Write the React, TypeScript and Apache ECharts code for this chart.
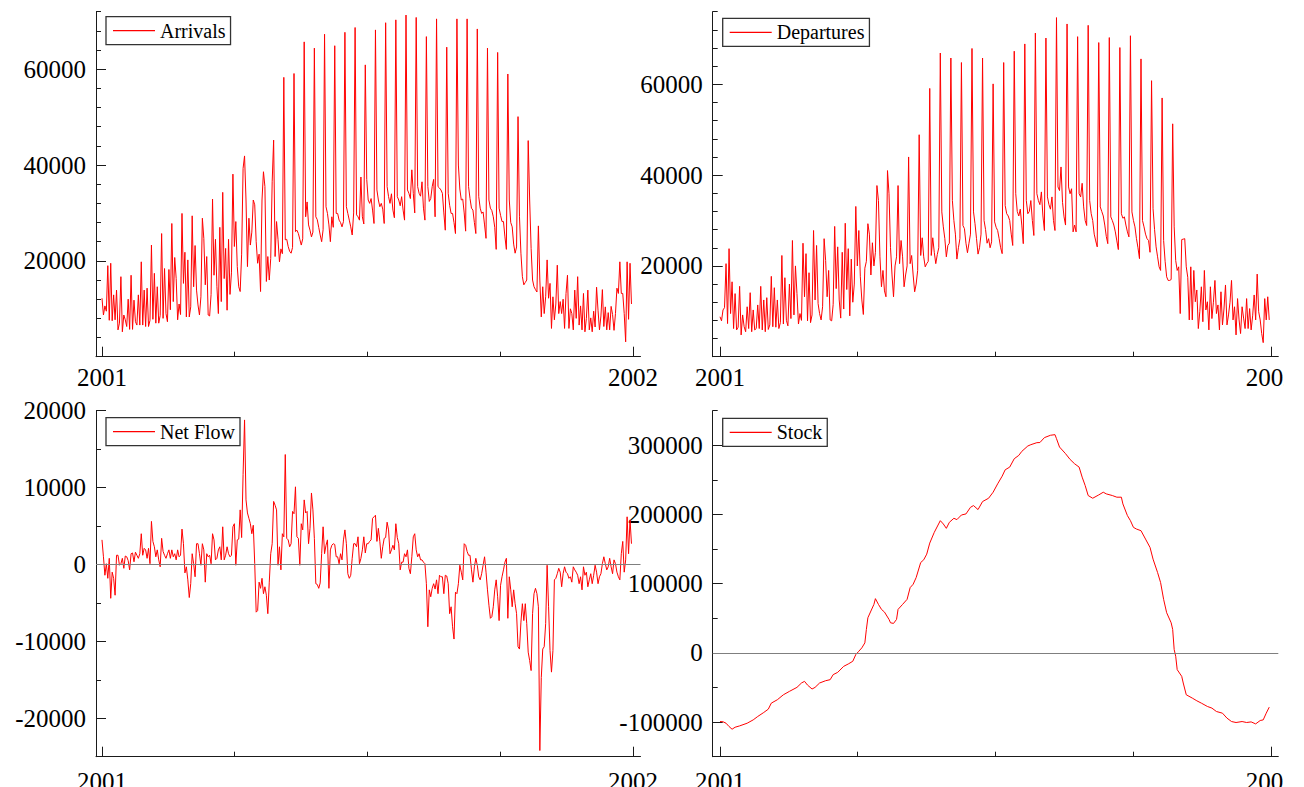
import React, { useEffect, useRef } from 'react';
import * as echarts from 'echarts';

// All flows in thousands of units per day, day 0 = 2001-01-01 (365 days)
const SCALE = 1000;

const arrivalsK = [
  12.2, 8.7, 10.6, 9.5, 19.0, 7.6, 19.5,
  7.5, 12.9, 7.7, 13.9, 5.6, 7.0, 16.7,
  5.2, 8.7, 7.7, 6.3, 12.0, 5.7, 17.0,
  5.7, 11.8, 7.3, 6.6, 12.9, 6.6, 19.8,
  6.6, 13.9, 6.3, 14.3, 6.3, 7.6, 23.3,
  7.8, 17.4, 7.0, 14.6, 7.0, 8.6, 25.7,
  8.0, 18.4, 9.0, 7.3, 18.2, 9.8, 27.8,
  11.5, 20.7, 16.3, 7.7, 11.0, 8.8, 29.9,
  15.3, 21.8, 8.3, 20.2, 8.3, 10.4, 29.4,
  14.6, 23.2, 13.9, 10.8, 8.7, 12.5, 28.9,
  24.7, 15.0, 20.9, 8.7, 8.5, 13.0, 32.9,
  17.0, 24.5, 14.6, 9.0, 27.0, 11.5, 34.3,
  16.3, 22.6, 9.7, 24.5, 13.0, 17.5, 38.1,
  23.0, 28.2, 18.8, 14.6, 13.6, 21.4, 39.3,
  41.9, 32.7, 18.8, 28.9, 23.3, 26.0, 32.7,
  31.7, 24.0, 19.5, 21.4, 13.6, 32.7, 38.6,
  35.5, 15.7, 20.9, 16.0, 20.5, 36.5, 45.2,
  20.9, 28.2, 24.5, 19.8, 22.5, 21.5, 58.3,
  24.4, 24.5, 23.0, 22.0, 21.6, 22.8, 59.1,
  26.1, 26.4, 25.7, 24.5, 23.3, 24.6, 65.7,
  29.2, 32.3, 27.5, 26.4, 25.0, 26.0, 64.4,
  29.2, 28.6, 27.0, 25.4, 24.0, 26.5, 67.3,
  31.3, 29.9, 27.5, 24.0, 29.2, 27.0, 64.9,
  29.9, 29.9, 28.5, 28.0, 27.1, 28.2, 67.7,
  31.3, 29.9, 28.5, 27.1, 25.4, 30.0, 68.7,
  29.6, 29.2, 28.5, 37.5, 29.2, 27.7, 60.9,
  37.0, 32.7, 32.0, 33.0, 30.6, 27.8, 68.2,
  34.8, 32.7, 31.3, 32.0, 30.8, 27.8, 69.7,
  35.5, 33.4, 32.0, 34.0, 30.6, 29.0, 70.3,
  33.4, 32.7, 31.5, 33.4, 30.6, 28.5, 71.3,
  34.8, 34.1, 33.0, 39.0, 34.1, 30.0, 70.8,
  35.5, 34.1, 33.5, 36.5, 31.0, 28.5, 66.8,
  35.5, 32.4, 33.0, 35.5, 37.0, 29.2, 70.5,
  35.5, 35.2, 34.8, 34.1, 30.0, 26.4, 64.6,
  34.1, 31.6, 29.9, 29.9, 28.0, 25.7, 70.5,
  40.0, 35.0, 32.7, 32.9, 30.0, 26.2, 70.5,
  35.5, 33.0, 31.0, 30.6, 28.0, 25.7, 68.4,
  33.4, 31.0, 29.9, 30.2, 27.5, 24.7, 64.4,
  32.7, 31.0, 30.5, 29.2, 27.0, 22.4, 63.5,
  31.0, 29.5, 28.2, 28.2, 25.0, 22.4, 59.0,
  32.7, 28.0, 27.1, 23.5, 21.6, 22.9, 50.1,
  29.2, 21.6, 16.7, 15.0, 15.5, 16.0, 45.1,
  32.7, 22.6, 16.0, 14.6, 14.0, 13.5, 27.3,
  16.0, 8.3, 14.6, 9.0, 12.5, 20.2, 12.2, 15.3, 5.9, 12.5,
  7.7, 11.0, 19.1, 9.0, 11.5, 9.0, 12.0, 5.9, 13.2, 17.0,
  5.9, 10.0, 9.0, 5.6, 13.9, 8.0, 16.7, 6.6, 10.6, 5.6,
  13.2, 5.2, 8.0, 13.9, 5.6, 8.1, 5.2, 9.5, 6.2, 14.5,
  9.7, 5.6, 8.5, 14.0, 6.3, 10.4, 5.6, 9.2, 5.6, 10.5,
  8.8, 5.5, 9.0, 14.3, 13.2, 19.8, 13.2, 13.2, 9.0, 3.1,
  19.8, 7.8, 19.5, 11.0,
];

const departuresK = [
  8.8, 7.9, 10.3, 10.8, 20.5, 7.3, 23.8,
  9.5, 16.5, 6.2, 13.9, 5.9, 6.5, 15.5,
  4.8, 9.2, 6.6, 5.5, 11.0, 6.2, 14.1,
  5.5, 10.3, 5.9, 6.2, 11.4, 6.2, 15.5,
  5.9, 12.5, 5.5, 13.0, 6.0, 7.0, 17.7,
  6.6, 15.2, 6.5, 12.5, 6.2, 7.5, 22.3,
  7.2, 17.4, 8.0, 6.8, 16.0, 8.4, 25.6,
  9.2, 20.0, 13.9, 7.2, 9.5, 8.0, 25.0,
  13.2, 22.7, 7.9, 18.5, 7.5, 9.2, 27.8,
  12.5, 24.5, 11.7, 9.5, 8.1, 11.0, 26.0,
  21.2, 13.2, 19.0, 8.1, 7.9, 11.5, 28.7,
  15.0, 24.2, 12.5, 8.5, 23.0, 10.5, 29.4,
  14.8, 23.8, 9.0, 21.5, 12.0, 16.0, 33.1,
  20.0, 27.8, 17.6, 12.5, 9.3, 19.5, 21.0,
  29.3, 27.0, 18.0, 25.1, 20.0, 23.0, 37.7,
  34.4, 22.0, 15.4, 19.0, 14.5, 13.2, 41.0,
  35.9, 24.0, 18.0, 13.2, 20.0, 22.0, 37.7,
  20.5, 25.6, 22.0, 15.4, 18.0, 20.0, 44.0,
  20.5, 22.3, 18.0, 14.3, 16.0, 19.0, 48.9,
  22.3, 26.2, 22.0, 19.8, 20.5, 21.0, 59.1,
  22.3, 26.2, 23.0, 20.5, 22.5, 24.0, 66.9,
  31.9, 28.6, 26.0, 22.0, 24.5, 25.0, 65.8,
  34.4, 30.0, 27.0, 21.5, 24.0, 26.0, 64.8,
  28.9, 28.2, 25.0, 22.9, 25.0, 27.0, 67.9,
  31.9, 29.3, 26.0, 22.6, 24.0, 27.0, 65.8,
  30.0, 28.0, 25.0, 26.0, 24.0, 25.3, 60.1,
  29.7, 28.5, 27.8, 26.0, 24.0, 22.7, 64.8,
  33.3, 31.5, 31.0, 30.0, 27.0, 24.5, 67.3,
  35.9, 32.0, 31.0, 32.5, 29.0, 24.9, 68.9,
  34.4, 31.5, 32.0, 34.4, 30.0, 26.7, 71.3,
  35.9, 34.4, 33.5, 36.3, 31.0, 27.8, 70.2,
  35.2, 33.5, 32.5, 35.2, 30.0, 27.8, 74.7,
  37.4, 36.6, 41.8, 34.0, 30.8, 29.0, 73.3,
  37.4, 35.9, 37.0, 27.5, 29.0, 27.5, 70.5,
  35.9, 35.2, 38.2, 33.0, 30.0, 28.9, 73.0,
  34.4, 31.5, 30.0, 27.0, 25.5, 24.2, 69.2,
  33.0, 32.0, 31.0, 29.0, 26.5, 24.9, 70.3,
  30.8, 30.0, 29.0, 27.5, 25.5, 23.6, 68.1,
  31.5, 30.5, 30.8, 29.0, 27.5, 26.4, 70.7,
  31.9, 30.0, 28.6, 26.0, 24.0, 21.6, 65.6,
  30.0, 28.6, 27.0, 26.0, 25.6, 23.0, 60.8,
  32.6, 28.0, 24.2, 22.0, 19.8, 19.0, 57.0,
  25.6, 21.0, 17.6, 16.8, 16.8, 17.0, 51.3,
  28.6, 21.2, 19.0, 19.8, 9.5, 25.8, 25.9, 26.0, 19.8,
  17.5, 8.1, 19.8, 8.1, 19.0, 12.1, 14.7, 6.2, 10.0, 15.4,
  7.7, 19.0, 10.3, 12.1, 5.9, 15.4, 8.4, 12.0, 16.8, 9.5,
  11.4, 5.9, 14.3, 7.0, 10.5, 15.8, 7.0, 9.2, 12.0, 16.8,
  8.1, 11.0, 4.8, 12.8, 8.1, 5.1, 11.0, 8.5, 6.2, 12.8,
  6.2, 10.6, 5.9, 9.0, 13.6, 8.1, 18.2, 9.9, 8.1, 5.1,
  3.1, 12.8, 8.1, 13.2, 8.1,
];

const netFlowK = [
  3.2, 1.0, -1.4, 0.1, -1.8, 0.8, -4.4, -1.0, -1.8, -4.0,
  1.2, 1.2, -0.1, 0.1, 0.8, -0.5, 1.1, 1.0, 0.5, -0.7,
  1.4, 1.5, 0.35, 1.6, 1.2, 0.8, 1.4, 4.0, 1.2, 2.1,
  1.9, 0.8, 2.1, 0.1, 5.6, 3.0, 2.3, 1.0, 1.9, 0.6,
  -0.3, 3.4, 1.7, 1.2, 0.8, 1.4, 1.9, 0.8, 1.9, 1.0,
  1.4, 0.6, 1.9, 1.0, 1.2, 4.6, 2.7, -1.1, -0.3, -2.0,
  -4.3, -2.5, 1.4, 0.1, -1.6, 2.7, 2.7, 1.4, -0.1, 2.7,
  1.9, -2.3, 1.4, 1.0, 1.2, 0.1, 4.0, 3.2, 0.6, 0.8,
  1.9, 2.3, 0.6, 4.9, 0.6, 1.2, 2.3, 1.4, 1.0, 1.2,
  4.9, 5.3, -0.1, 3.2, 3.3, 7.1, 3.5, 11.7, 18.8, 8.4,
  6.7, 6.0, 5.3, 4.0, 5.1, 0.1, -6.2, -6.0, -2.3, -3.1,
  -1.8, -3.8, -2.9, -4.0, -6.4, -2.3, 1.4, 2.7, 8.2, 7.7,
  7.1, -0.1, 2.3, -0.7, 4.0, 3.6, 14.3, 3.4, 3.2, 2.3,
  2.7, 6.9, 6.6, 10.1, 3.6, 3.4, -0.1, 5.3, 4.5, 8.4,
  6.7, 6.9, 2.7, 4.7, 9.3, 7.1, 3.4, -2.5, -2.6, -3.1,
  -2.4, 1.4, 4.9, 1.4, 2.5, 3.2, -3.1, 1.9, 2.5, 2.7,
  2.6, 1.0, 1.0, 0.1, 1.4, 0.6, 3.2, 4.5, 2.7, -1.2,
  -1.8, -1.4, 0.8, 2.7, 2.7, 2.3, 3.6,
  0.1, 0.8, 1.9, 3.6, 1.5, 2.7, 2.7, 3.0, 3.2, 6.0,
  6.2, 6.4, 3.0, 4.7, 3.0, 0.8, 2.3, 3.4, 3.5, 5.5,
  4.5, 1.4, 1.9, 2.5, 1.9, 5.3, 3.5, 2.7, -0.7, 0.3,
  0.3, 1.4,
  1.0, 1.9, -0.5, -1.2, 1.0, 3.6, 4.0, 1.9, 1.0, 1.4,
  0.6, 0.6, 0.3, 0.1, -2.5, -8.1, -3.3, -4.2, -3.1,
  -2.5, -3.2, -2.0, -3.8, -1.4, -1.6, -1.6, -3.8, -1.4, -1.5, -2.5,
  -6.4, -5.5, -8.1, -9.7, -3.6,
  -3.8, -2.5, -0.1, -1.0, -2.0, 2.7, 2.5, 1.7, 1.2, 1.2,
  -0.7, -2.3, -0.3, 0.8, -0.1, -1.6, -2.0, -1.2,
  -0.1, 1.0, -1.0, -3.3, -5.3, -7.0, -6.8, -5.5, -3.3, -2.0, -4.2, -7.3,
  -2.7, -1.6, -0.7, 0.3, 0.8, -7.0,
  -1.6, -3.3, -5.5,
  -3.3, -5.1, -6.4, -10.7, -11.0, -7.5, -5.1, -7.3, -5.1,
  -7.7, -11.4, -12.5, -13.8,
  -6.4, -3.8, -3.1, -3.8, -5.5, -24.2, -14.7, -11.0, -10.7, -7.7, -0.1, -5.5, -11.2, -14.0, -11.2, -2.0,
  -1.8, -1.2, -0.5, -1.0, -2.9, -1.2, -0.3, -1.0, -1.2, -1.8,
  -1.6, -2.3, -0.3, -0.7, -1.0, -1.4, -2.5, -1.6, -3.3, -0.3,
  -1.4, -1.0, -2.9, -2.0, -1.2, -2.5, -1.4, -0.1, -1.0, -2.5,
  -1.6, -1.2, 0.1, 1.0, 0.1, -0.7, -0.3, 0.8, -0.3, -1.2,
  0.6, 0.1, -1.0, -1.6, -2.0, 1.4, 3.0, -1.0, 0.6, 6.2,
  1.4, 5.8, 2.7,
];

// Stock: [day, thousands]
const stockPointsK: [number, number][] = [
  [0, -99.2], [2, -99.5], [4, -101.6], [6, -106.4], [8, -110.3], [10, -107.4], [13, -105.5],
  [18, -101.6], [22, -96.8], [25, -91.9], [29, -86.1], [32, -81.3], [34, -72.6], [38, -67.7],
  [42, -60.5], [46, -55.6], [51, -49.8], [54, -43.5], [56, -41.1], [58, -46.5], [61, -52.2],
  [63, -49.8], [66, -43.5], [70, -40.2], [73, -38.7], [75, -31.4], [78, -28.1], [82, -19.4],
  [85, -16.0], [88, -12.1], [90, -2.4], [92, 2.4], [94, 7.3], [96, 14.5], [97, 33.9],
  [98, 50.8], [100, 60.5], [102, 70.1], [103, 78.4], [105, 70.1], [107, 62.9], [109, 59.0],
  [112, 48.4], [113, 43.5], [115, 42.6], [117, 48.4], [118, 62.9], [121, 70.1], [124, 77.4],
  [126, 94.3], [128, 99.2], [130, 108.9], [133, 130.6], [135, 134.5], [137, 142.7], [139, 158.7],
  [142, 174.2], [146, 191.1], [148, 186.3], [150, 180.0], [152, 188.7], [155, 194.5], [157, 192.6],
  [160, 199.3], [163, 200.8], [166, 210.4], [168, 212.9], [171, 207.1], [174, 218.7], [178, 223.5],
  [181, 232.2], [184, 244.3], [187, 255.4], [189, 264.6], [192, 268.5], [195, 280.6], [198, 285.4],
  [200, 291.2], [204, 299.0], [206, 300.9], [210, 303.8], [212, 304.0], [215, 311.1], [219, 314.5],
  [222, 315.4], [223, 309.6], [225, 297.5], [229, 287.9], [232, 279.6], [235, 273.3], [238, 268.5],
  [240, 254.0], [242, 241.9], [244, 227.4], [247, 223.5], [251, 228.3], [254, 232.2], [256, 229.8],
  [260, 227.4], [263, 225.0], [266, 225.0], [267, 215.3], [270, 198.4], [272, 191.1], [274, 181.4],
  [276, 179.0], [279, 176.6], [282, 164.5], [285, 152.4], [287, 135.5], [290, 116.1], [292, 101.6],
  [294, 77.4], [296, 58.1], [299, 43.5], [300, 33.9], [301, 4.8], [302, -4.8], [303, -24.2],
  [306, -33.9], [307, -43.5], [309, -60.5], [313, -65.3], [316, -69.2], [319, -72.6], [323, -77.4],
  [326, -79.8], [329, -84.7], [333, -87.1], [336, -94.3], [339, -99.2], [342, -100.6], [346, -99.2],
  [349, -100.6], [352, -99.7], [355, -102.6], [358, -97.7], [360, -96.8], [362, -87.1], [364, -78.4],
];

// Axis ticks
const xMajorTicks = [0, 365];
const xTickLabels = ['2001', '2002'];
const xMinorTicks = [91.25, 182.5, 273.75];

const arrivalsMajor = [20000, 40000, 60000];
const arrivalsMinor = [4000, 8000, 12000, 16000, 24000, 28000, 32000, 36000, 44000, 48000, 52000, 56000, 64000, 68000, 72000];
const departuresMajor = [20000, 40000, 60000];
const departuresMinor = [4000, 8000, 12000, 16000, 24000, 28000, 32000, 36000, 44000, 48000, 52000, 56000, 64000, 68000, 72000, 76000];
const netMajor = [-20000, -10000, 0, 10000, 20000];
const netMinor = [-25000, -15000, -5000, 5000, 15000];
const stockMajor = [-100000, 0, 100000, 200000, 300000];
const stockMinor = [-150000, -50000, 50000, 150000, 250000, 350000];

const FONT = "'Liberation Serif', 'Times New Roman', serif";
const AXIS_COLOR = '#1a1a1a';
const RED = '#ff0000';

type Panel = {
  name: string;
  grid: { left: number; top: number; width: number; height: number };
  xMin: number;
  xMax: number;
  yMin: number;
  yMax: number;
  yMajor: number[];
  yMinor: number[];
  data: [number, number][];
  zero: boolean;
  xLabelMargin: number;
  legendPos: { left: number; top: number };
};

function buildOption() {
  const toPairs = (arr: number[]) => arr.map((v, i) => [i, v * SCALE] as [number, number]);
  const panels: Panel[] = [
    {
      name: 'Arrivals',
      grid: { left: 96, top: 11.7, width: 544.5, height: 345 },
      xMin: -4.12, xMax: 370.2, yMin: 0, yMax: 72000,
      yMajor: arrivalsMajor, yMinor: arrivalsMinor,
      data: toPairs(arrivalsK), zero: false, xLabelMargin: 8,
      legendPos: { left: 106, top: 16.7 },
    },
    {
      name: 'Departures',
      grid: { left: 712.7, top: 11.7, width: 565.6, height: 345 },
      xMin: -4.84, xMax: 370.0, yMin: 0, yMax: 76000,
      yMajor: departuresMajor, yMinor: departuresMinor,
      data: toPairs(departuresK), zero: false, xLabelMargin: 8,
      legendPos: { left: 722.7, top: 18.3 },
    },
    {
      name: 'Net Flow',
      grid: { left: 96, top: 410.7, width: 544.5, height: 346 },
      xMin: -4.12, xMax: 370.2, yMin: -25000, yMax: 20000,
      yMajor: netMajor, yMinor: netMinor,
      data: toPairs(netFlowK), zero: true, xLabelMargin: 12,
      legendPos: { left: 106, top: 417.7 },
    },
    {
      name: 'Stock',
      grid: { left: 712.7, top: 410.7, width: 565.6, height: 346 },
      xMin: -4.84, xMax: 370.0, yMin: -150000, yMax: 350000,
      yMajor: stockMajor, yMinor: stockMinor,
      data: stockPointsK.map(([d, v]) => [d, v * SCALE] as [number, number]), zero: true, xLabelMargin: 12,
      legendPos: { left: 722.7, top: 418.3 },
    },
  ];

  const lineStyle = { color: AXIS_COLOR, width: 1 };
  const labelStyle = { fontFamily: FONT, fontSize: 25, color: '#000' };

  const grid: any[] = [];
  const xAxis: any[] = [];
  const yAxis: any[] = [];
  const series: any[] = [];
  const legend: any[] = [];

  panels.forEach((p, i) => {
    grid.push({ ...p.grid, containLabel: false, outerBoundsMode: 'none' });
    xAxis.push({
      type: 'value', gridIndex: i, position: 'bottom', min: p.xMin, max: p.xMax,
      axisLine: { show: true, onZero: false, lineStyle },
      axisTick: { show: true, inside: true, length: 10, customValues: xMajorTicks, lineStyle },
      axisLabel: {
        show: true, customValues: xMajorTicks, margin: p.xLabelMargin, ...labelStyle,
        formatter: (v: number) => xTickLabels[xMajorTicks.indexOf(v)] ?? '',
      },
      splitLine: { show: false },
    });
    xAxis.push({
      type: 'value', gridIndex: i, position: 'bottom', min: p.xMin, max: p.xMax,
      axisLine: { show: false, onZero: false },
      axisTick: { show: true, inside: true, length: 5, customValues: xMinorTicks, lineStyle },
      axisLabel: { show: false },
      splitLine: { show: false },
    });
    yAxis.push({
      type: 'value', gridIndex: i, position: 'left', min: p.yMin, max: p.yMax,
      axisLine: { show: true, onZero: false, lineStyle },
      axisTick: { show: true, inside: true, length: 10, customValues: p.yMajor, lineStyle },
      axisLabel: {
        show: true, customValues: p.yMajor, margin: 10, ...labelStyle,
        formatter: (v: number) => String(v),
      },
      splitLine: { show: false },
    });
    yAxis.push({
      type: 'value', gridIndex: i, position: 'left', min: p.yMin, max: p.yMax,
      axisLine: { show: false, onZero: false },
      axisTick: { show: true, inside: true, length: 5, customValues: p.yMinor, lineStyle },
      axisLabel: { show: false },
      splitLine: { show: false },
    });
    series.push({
      name: p.name,
      type: 'line',
      xAxisIndex: 2 * i,
      yAxisIndex: 2 * i,
      data: p.data,
      showSymbol: false,
      symbol: 'none',
      lineStyle: { color: RED, width: 1 },
      itemStyle: { color: RED },
      emphasis: { disabled: true },
      markLine: p.zero
        ? {
            silent: true,
            symbol: ['none', 'none'],
            label: { show: false },
            lineStyle: { color: '#7f7f7f', width: 1, type: 'solid' },
            data: [{ yAxis: 0 }],
          }
        : undefined,
    });
    legend.push({
      data: [p.name],
      left: p.legendPos.left,
      top: p.legendPos.top,
      orient: 'horizontal',
      icon: 'rect',
      itemWidth: 42,
      itemHeight: 1.2,
      itemGap: 0,
      padding: [4, 5, 4, 7],
      borderColor: '#333',
      borderWidth: 1.3,
      borderRadius: 0,
      backgroundColor: '#fff',
      selectedMode: false,
      textStyle: { fontFamily: FONT, fontSize: 20, color: '#000' },
    });
  });

  return {
    animation: false,
    backgroundColor: '#fff',
    grid,
    xAxis,
    yAxis,
    series,
    legend,
  };
}

export default function App() {
  const ref = useRef<HTMLDivElement>(null);
  useEffect(() => {
    if (!ref.current) return;
    const chart = echarts.init(ref.current, undefined, { renderer: 'svg' });
    chart.setOption(buildOption() as any);
    return () => chart.dispose();
  }, []);
  return (
    <div
      ref={ref}
      style={{ position: 'absolute', left: 0, top: 0, width: 1284, height: 787, background: '#fff' }}
    />
  );
}
